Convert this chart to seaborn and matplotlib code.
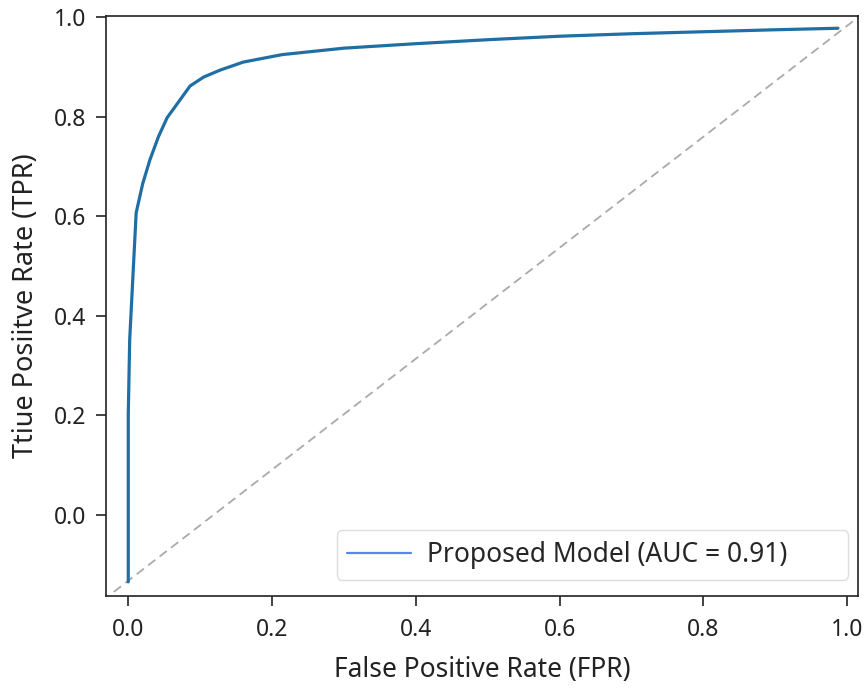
import pandas as pd
import matplotlib.pyplot as plt
import seaborn as sns
from matplotlib.lines import Line2D

# Curva ROC
fpr = [0.0, 0.0, 0.002, 0.011, 0.02, 0.03, 0.042, 0.054, 0.07, 0.086, 0.105,
       0.128, 0.16, 0.214, 0.3, 0.4, 0.5, 0.6, 0.7, 0.8, 0.9, 0.987]
tpr = [-0.135, 0.2, 0.352, 0.607, 0.665, 0.713, 0.76, 0.798, 0.83, 0.862, 0.88,
       0.894, 0.91, 0.925, 0.938, 0.947, 0.955, 0.962, 0.967, 0.971, 0.975, 0.978]

# Linea de referencia (azar)
diag_x = [-0.02, 1.015]
diag_y = [-0.155, 1.0]

auc_label = 'Proposed Model (AUC = 0.91)'

df = pd.DataFrame({'fpr': fpr, 'tpr': tpr})

sns.set_style('ticks')
plt.rcParams['font.family'] = ['Noto Sans', 'DejaVu Sans']

fig, ax = plt.subplots(figsize=(8.65, 6.88), dpi=100)
fig.subplots_adjust(left=0.1225, right=0.992, bottom=0.134, top=0.977)

ax.plot(diag_x, diag_y, linestyle=(0, (5, 3)), color='#aaaaaa', linewidth=1.3)
sns.lineplot(data=df, x='fpr', y='tpr', sort=False, estimator=None,
             color='#1f6fa5', linewidth=2.3, ax=ax, legend=False,
             solid_capstyle='round')

ax.set_xlim(-0.031, 1.015)
ax.set_ylim(-0.163, 1.003)
ax.set_xticks([0.0, 0.2, 0.4, 0.6, 0.8, 1.0])
ax.set_yticks([0.0, 0.2, 0.4, 0.6, 0.8, 1.0])
ax.tick_params(labelsize=16.5, length=7, width=1.2, colors='#222222')
ax.tick_params(axis='x', pad=9)
ax.tick_params(axis='y', pad=7)
for s in ax.spines.values():
    s.set_visible(True)
    s.set_color('#222222')
    s.set_linewidth(1.2)

ax.set_xlabel('False Positive Rate (FPR)', fontsize=19, labelpad=10, color='#222222')
ax.set_ylabel('Ttiue Posiitve Rate (TPR)', fontsize=19.5, labelpad=10, color='#222222')

# leyenda ancha, como en la figura original
handle = Line2D([0], [0], color='#5588ee', linewidth=1.6)
ax.legend([handle], [auc_label], loc='lower left', mode='expand', fontsize=19,
          frameon=True, fancybox=True, framealpha=1, edgecolor='#dddddd',
          borderpad=0.4, borderaxespad=0, handlelength=2.4, handletextpad=0.6,
          bbox_to_anchor=(0.307, 0.028, 0.68, 0.09))

plt.savefig('out.png', dpi=100)
plt.close()
